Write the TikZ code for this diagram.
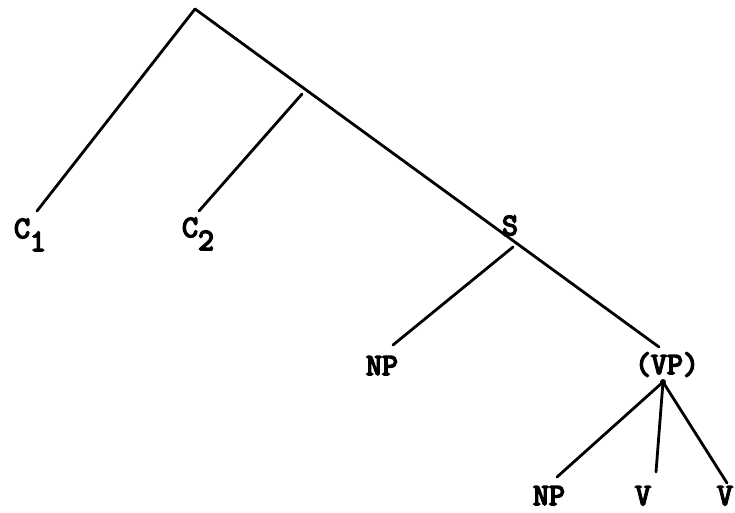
\documentclass[tikz,border=0pt]{standalone}
\usepackage{fontspec}
\newfontfamily\twfont{Latin Modern Mono}[FakeBold=5]
\begin{document}
\begin{tikzpicture}[x=1pt,y=-1pt,
  lbl/.style={font=\twfont\fontsize{31}{31}\selectfont, inner sep=0pt, anchor=base},
  branch/.style={line width=2.8pt, line cap=round}]
\useasboundingbox (0,0) rectangle (735,512);
% labels
\node[lbl] (C1) at (30,238) {C\raisebox{-.42em}{1}};
\node[lbl] (C2) at (198,237) {C\raisebox{-.42em}{2}};
\node[lbl] (S) at (510,235) {S};
\node[lbl] (NPa) at (382,375) {NP};
\node[lbl] (VP) at (667,374) {(VP)};
\node[lbl] (NPb) at (549,505) {NP};
\node[lbl] (V1) at (643,505) {V};
\node[lbl] (V2) at (725,505) {V};
% junctions and branch ends
\coordinate (apex) at (195,9);
\coordinate (c2top) at (302,94);
\coordinate (sj) at (513,247);
\coordinate (vpdot) at (663,382);
\coordinate (c1end) at (37,211);
\coordinate (c2end) at (199,211);
\coordinate (npend) at (393,345);
\coordinate (vpend) at (659,347);
\coordinate (np2end) at (557,477);
\coordinate (v1end) at (656,472);
\coordinate (v2end) at (727,483);
% branches
\draw[branch] (apex) -- (c1end);
\draw[branch] (apex) -- (vpend);
\draw[branch] (c2top) -- (c2end);
\draw[branch] (sj) -- (npend);
\draw[branch] (vpdot) -- (np2end);
\draw[branch] (vpdot) -- (v1end);
\draw[branch] (vpdot) -- (v2end);
\fill (vpdot) circle (3pt);
\end{tikzpicture}
\end{document}
